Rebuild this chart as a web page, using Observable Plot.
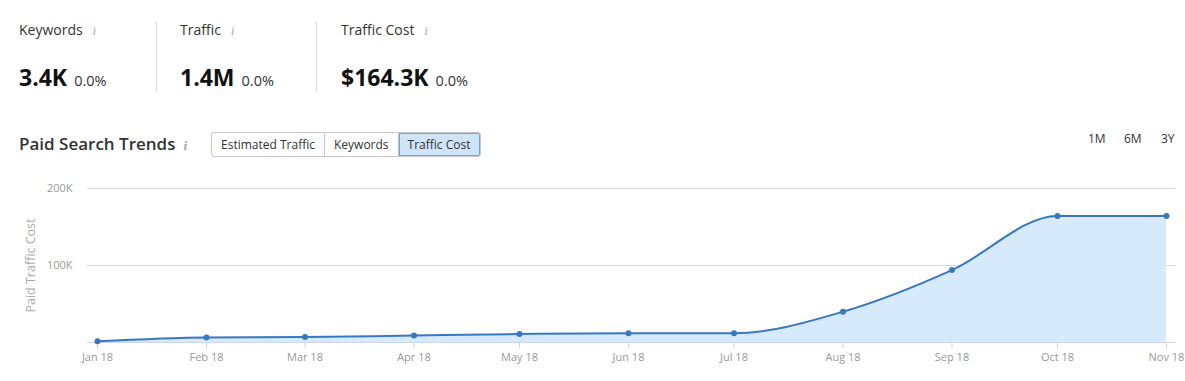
<!DOCTYPE html>
<html>
<head>
<meta charset="utf-8">
<script src="https://cdn.jsdelivr.net/npm/d3@7"></script>
<script src="https://cdn.jsdelivr.net/npm/@observablehq/plot@0.6"></script>
<style>
  html, body { margin: 0; padding: 0; background: #fff; }
  body { width: 1185px; height: 381px; overflow: hidden; font-family: "Open Sans", "Noto Sans", sans-serif; color: #333; }
  #wrap { position: relative; width: 1185px; height: 381px; }
  .abs { position: absolute; white-space: nowrap; }
  .kpi-label { font-size: 14px; color: #333; }
  .info { font-family: "DejaVu Serif", serif; font-style: italic; font-size: 11px; color: #aaa; margin-left: 10px; }
  .kpi-val { font-size: 23px; font-weight: 700; color: #111; letter-spacing: 0px; }
  .kpi-pct { font-size: 14.5px; font-weight: 400; color: #333; margin-left: 7px; letter-spacing: 0; }
  .sep { position: absolute; width: 1px; background: #ddd; top: 22px; height: 70px; }
  .title { font-size: 17px; font-weight: 600; color: #333; }
  .btns { position: absolute; left: 211px; top: 132px; height: 25px; display: flex; border: 1px solid #c8c8c8; border-radius: 3px; box-sizing: border-box; overflow: hidden; }
  .btn { font-size: 12px; line-height: 23px; padding: 0 9px; color: #333; border-right: 1px solid #c8c8c8; }
  .btn:last-child { border-right: none; }
  .btn.sel { background: #cfe4f7; box-shadow: inset 0 0 0 1px #6aa6dc; }
  .range { font-size: 12px; color: #333; }
  #chart { position: absolute; left: 0; top: 175px; }
</style>
</head>
<body>
<div id="wrap">
  <div class="abs kpi-label" style="left:19px;top:20px;">Keywords<span class="info">i</span></div>
  <div class="abs kpi-label" style="left:180px;top:20px;">Traffic<span class="info">i</span></div>
  <div class="abs kpi-label" style="left:341px;top:20px;">Traffic Cost<span class="info">i</span></div>
  <div class="sep" style="left:156px;"></div>
  <div class="sep" style="left:316px;"></div>
  <div class="abs kpi-val" style="left:19px;top:61px;">3.4K<span class="kpi-pct">0.0%</span></div>
  <div class="abs kpi-val" style="left:180px;top:61px;">1.4M<span class="kpi-pct">0.0%</span></div>
  <div class="abs kpi-val" style="left:341px;top:61px;">$164.3K<span class="kpi-pct">0.0%</span></div>

  <div class="abs title" style="left:19px;top:132px;">Paid Search Trends<span class="info" style="margin-left:8px;">i</span></div>
  <div class="btns">
    <div class="btn">Estimated Traffic</div>
    <div class="btn">Keywords</div>
    <div class="btn sel">Traffic Cost</div>
  </div>
  <div class="abs range" style="left:1088px;top:130px;">1M</div>
  <div class="abs range" style="left:1124px;top:130px;">6M</div>
  <div class="abs range" style="left:1161px;top:130px;">3Y</div>

  <div id="chart"></div>
</div>
<script>
const months = ["2018-01-01","2018-02-01","2018-03-01","2018-04-01","2018-05-01","2018-06-01","2018-07-01","2018-08-01","2018-09-01","2018-10-01","2018-11-01"];
const trafficCost = [1500, 6500, 7000, 9000, 11000, 12000, 12000, 40000, 94000, 164300, 164300];
const yTicks = [100000, 200000];
const yLabel = "Paid Traffic Cost";

const data = months.map((m, i) => ({date: new Date(m + "T00:00:00Z"), value: trafficCost[i]}));
const tickDates = months.map(m => new Date(m + "T00:00:00Z"));
const lineColor = "#3a78bd";
const fillColor = "#d6eafb";
const gridColor = "#d8d8d8";
const textColor = "#999";

const chart = Plot.plot({
  width: 1185,
  height: 206,
  marginLeft: 97,
  marginRight: 19,
  marginTop: 13,
  marginBottom: 39,
  style: {fontFamily: "'Open Sans', 'Noto Sans', sans-serif", background: "transparent", overflow: "visible"},
  x: {type: "utc", domain: [tickDates[0], tickDates[tickDates.length - 1]]},
  y: {domain: [0, 200000]},
  marks: [
    Plot.ruleY(yTicks, {stroke: gridColor, strokeWidth: 1, insetLeft: -10, insetRight: -9}),
    Plot.areaY(data, {x: "date", y: "value", fill: fillColor, curve: "monotone-x"}),
    Plot.ruleY([0], {stroke: "#ccd6eb", strokeWidth: 1, insetLeft: -10, insetRight: -9}),
    Plot.axisX({ticks: tickDates, tickFormat: d3.utcFormat("%b %y"), tickSize: 6, tickPadding: 5, stroke: "#ccd6eb", fill: textColor, fontSize: 11, label: null}),
    Plot.axisY({ticks: yTicks, tickFormat: d => d / 1000 + "K", tickSize: 0, tickPadding: 25, fill: textColor, fontSize: 11, label: null}),
    Plot.text([yLabel], {frameAnchor: "left", dx: -67, rotate: -90, textAnchor: "middle", fill: "#aaa", fontSize: 12.5}),
    Plot.line(data, {x: "date", y: "value", stroke: lineColor, strokeWidth: 2, curve: "monotone-x"}),
    Plot.dot(data, {x: "date", y: "value", fill: lineColor, r: 3, stroke: "none"})
  ]
});
document.getElementById("chart").appendChild(chart);
</script>
</body>
</html>
